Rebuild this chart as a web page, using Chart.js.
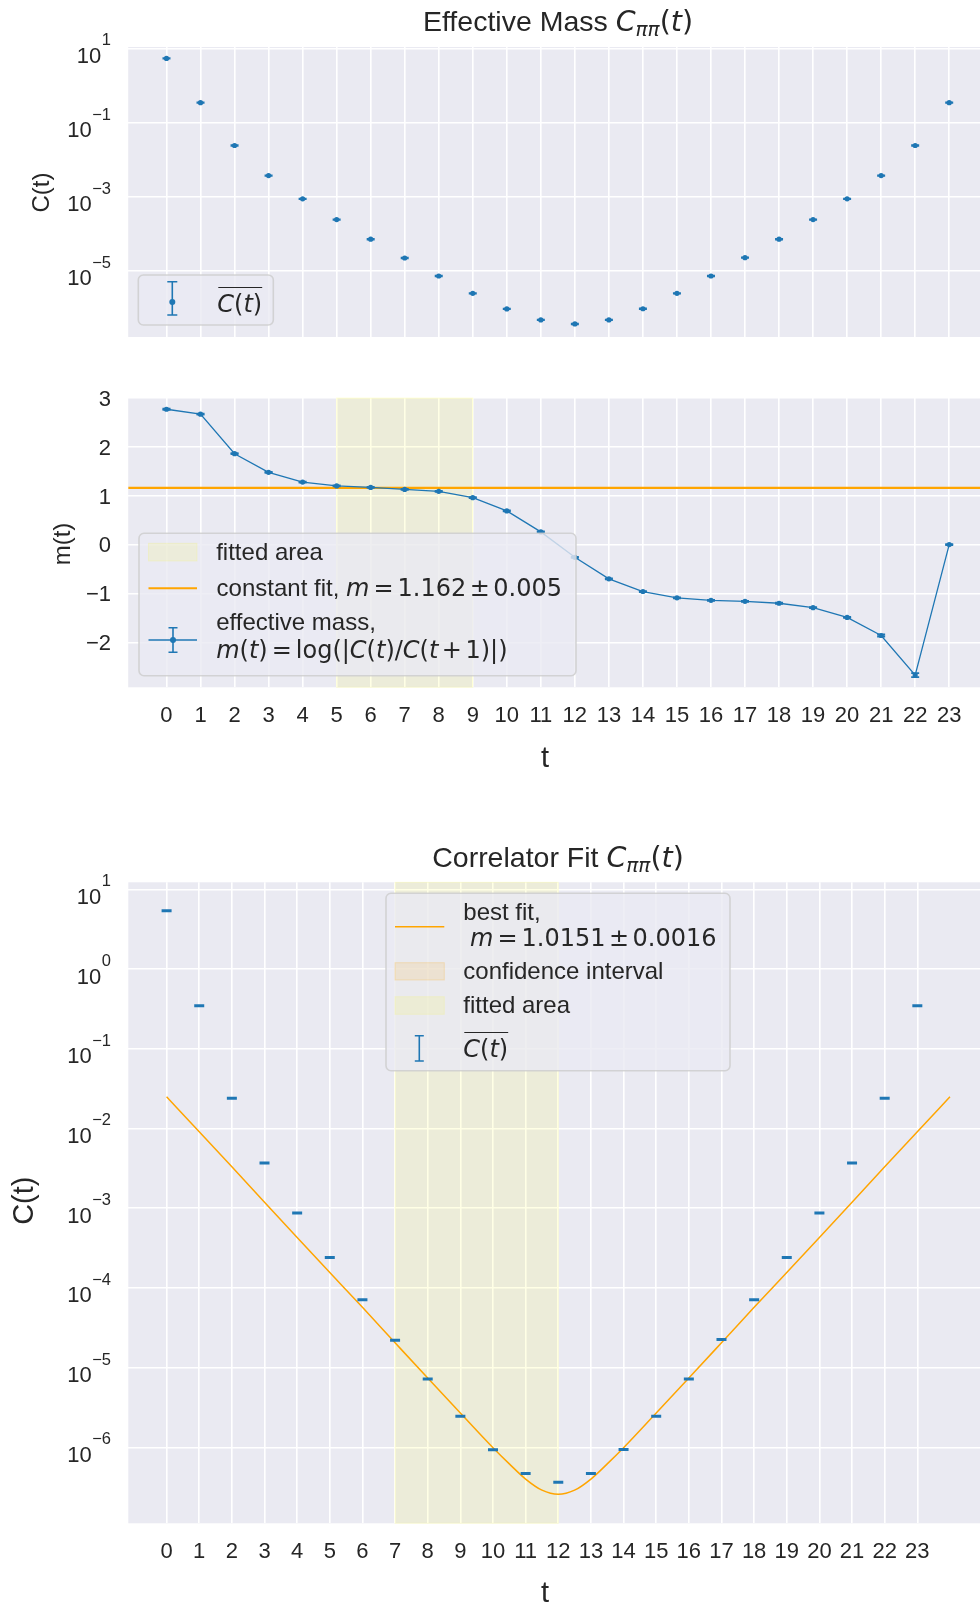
<!DOCTYPE html>
<html><head><meta charset="utf-8">
<script src="https://cdn.jsdelivr.net/npm/chart.js@4.4.1/dist/chart.umd.min.js"></script>
<style>
html,body{margin:0;padding:0;background:#fff;width:980px;height:1606px;overflow:hidden;}
canvas{position:absolute;left:0;}
</style></head><body>
<canvas id="c1" width="980" height="340" style="top:0px"></canvas>
<canvas id="c2" width="980" height="440" style="top:340px"></canvas>
<canvas id="c3" width="980" height="826" style="top:780px"></canvas>
<script>
// ---------------- data ----------------
const times = [0,1,2,3,4,5,6,7,8,9,10,11,12,13,14,15,16,17,18,19,20,21,22,23];
const corr = [5.4, 0.345, 0.024, 0.0037, 8.7e-4, 2.4e-4, 7.1e-5, 2.2e-5, 7.2e-6, 2.45e-6, 9.3e-7, 4.7e-7,
              3.65e-7, 4.7e-7, 9.4e-7, 2.45e-6, 7.2e-6, 2.25e-5, 7.1e-5, 2.4e-4, 8.7e-4, 3.7e-3, 0.024, 0.345];
const effMass = [2.77, 2.67, 1.86, 1.48, 1.28, 1.20, 1.17, 1.13, 1.09, 0.96, 0.69, 0.26,
                 -0.26, -0.70, -0.96, -1.09, -1.14, -1.16, -1.20, -1.29, -1.49, -1.86, -2.67, 0.0];
const effMassErr = [0.01,0.01,0.01,0.01,0.01,0.01,0.01,0.01,0.01,0.01,0.01,0.01,
                    0.01,0.01,0.01,0.01,0.01,0.01,0.01,0.01,0.01,0.02,0.04,0.01];
const fitT = [0,1,2,3,4,5,6,7,8,9,10,10.5,11,11.5,12,12.5,13,13.5,14,15,16,17,18,19,20,21,22,23,24];
const fitC = [0.025, 9.1e-3, 3.3e-3, 1.19e-3, 4.3e-4, 1.56e-4, 5.7e-5, 2.05e-5, 7.4e-6, 2.7e-6, 9.9e-7, 6.2e-7,
              4.0e-7, 2.9e-7, 2.57e-7, 2.9e-7, 4.0e-7, 6.2e-7, 9.9e-7, 2.7e-6, 7.4e-6, 2.05e-5, 5.7e-5, 1.56e-4,
              4.3e-4, 1.19e-3, 3.3e-3, 9.1e-3, 0.025];
const massFit = 1.162;
const massWindow = [5, 9];
const corrWindow = [7, 12];
const topLogTicks = [1, -1, -3, -5];
const bottomLogTicks = [1, 0, -1, -2, -3, -4, -5, -6];
const massTicks = [-2, -1, 0, 1, 2, 3];

// ---------------- style ----------------
const BLUE = '#1f77b4', ORANGE = '#ffa500', BG = '#eaeaf2', TXT = '#262626';
const SANS = '"Liberation Sans", Arial, "DejaVu Sans", sans-serif';
const MATH = '"DejaVu Sans", sans-serif';
const F = (s, it, fam) => (it ? 'italic ' : '') + s + 'px ' + fam;
const X12 = [-1.125, 23.905];
const X3 = [-1.173, 24.92];

function drawRuns(ctx, runs, x, y, align) {
  let total = 0;
  const ws = runs.map(r => {
    if (r.gap !== undefined) return r.gap;
    ctx.font = r[1]; return ctx.measureText(r[0]).width;
  });
  ws.forEach(w => total += w);
  let cx = align === 'center' ? x - total / 2 : align === 'right' ? x - total : x;
  const start = cx;
  ctx.textAlign = 'left'; ctx.textBaseline = 'alphabetic'; ctx.fillStyle = TXT;
  runs.forEach((r, i) => {
    if (r.gap === undefined) { ctx.font = r[1]; ctx.fillText(r[0], cx, y + (r[2] || 0)); }
    cx += ws[i];
  });
  return [start, cx];
}
function mathCt(size) {
  return [['C', F(size, true, MATH)], ['(', F(size, false, MATH)], ['t', F(size, true, MATH)], [')', F(size, false, MATH)]];
}
function titleRuns(word) {
  return [[word, F(28.5, false, SANS)], ['C', F(28.5, true, MATH)], ['ππ', F(20, true, MATH), 5],
          ['(', F(28.5, false, MATH)], ['t', F(28.5, true, MATH)], [')', F(28.5, false, MATH)]];
}
function rotLabel(ctx, text, size, cx, cy) {
  ctx.save(); ctx.translate(cx, cy); ctx.rotate(-Math.PI / 2);
  ctx.font = F(size, false, SANS); ctx.fillStyle = TXT; ctx.textAlign = 'center'; ctx.textBaseline = 'middle';
  ctx.fillText(text, 0, 0); ctx.restore();
}
function logTickLabels(ctx, scale, exps) {
  exps.forEach(e => {
    const y = scale.getPixelForValue(Math.pow(10, e));
    const es = e < 0 ? '\u2212' + (-e) : String(e);
    ctx.fillStyle = TXT; ctx.textAlign = 'left'; ctx.textBaseline = 'alphabetic';
    ctx.font = F(16.5, false, SANS); const ew = ctx.measureText(es).width;
    ctx.fillText(es, 111 - ew, y - 3);
    ctx.font = F(22, false, SANS); const bw = ctx.measureText('10').width;
    ctx.fillText('10', 111 - ew - 0.5 - bw, y + 14.6);
  });
}
function xTickLabels(ctx, scale, base) {
  ctx.fillStyle = TXT; ctx.font = F(22, false, SANS); ctx.textAlign = 'center'; ctx.textBaseline = 'alphabetic';
  times.forEach(t => ctx.fillText(String(t), scale.getPixelForValue(t), base));
}
function legendBox(ctx, x0, y0, x1, y1) {
  ctx.save(); ctx.beginPath(); ctx.roundRect(x0, y0, x1 - x0, y1 - y0, 5);
  ctx.fillStyle = 'rgba(234,234,242,0.8)'; ctx.fill();
  ctx.strokeStyle = 'rgba(204,204,204,0.8)'; ctx.lineWidth = 1.6; ctx.stroke(); ctx.restore();
}
function patch(ctx, x0, y0, x1, y1, fill, stroke) {
  ctx.fillStyle = fill; ctx.fillRect(x0, y0, x1 - x0, y1 - y0);
  ctx.strokeStyle = stroke; ctx.lineWidth = 1; ctx.strokeRect(x0, y0, x1 - x0, y1 - y0);
}
function hline(ctx, x0, x1, y, color, lw) {
  ctx.beginPath(); ctx.moveTo(x0, y); ctx.lineTo(x1, y); ctx.strokeStyle = color; ctx.lineWidth = lw; ctx.stroke();
}
function errIcon(ctx, x, yt, yb, ch, dotY, hl) {
  ctx.strokeStyle = BLUE; ctx.lineWidth = 1.6;
  ctx.beginPath(); ctx.moveTo(x, yt); ctx.lineTo(x, yb);
  ctx.moveTo(x - ch, yt); ctx.lineTo(x + ch, yt); ctx.moveTo(x - ch, yb); ctx.lineTo(x + ch, yb); ctx.stroke();
  if (hl) hline(ctx, hl[0], hl[1], dotY, BLUE, 1.3);
  if (dotY !== null) { ctx.beginPath(); ctx.arc(x, dotY, 3, 0, Math.PI * 2); ctx.fillStyle = BLUE; ctx.fill(); }
}
function overlineCt(ctx, x, base, size) {
  const [s, e] = drawRuns(ctx, mathCt(size), x, base, 'left');
  hline(ctx, s + 1, e, base - 24.2, TXT, 1.2);
}

function decor(spec) {
  return {
    id: 'decor',
    beforeDraw(chart) {
      const ctx = chart.ctx, a = chart.chartArea;
      ctx.save(); ctx.fillStyle = '#ffffff'; ctx.fillRect(0, 0, chart.width, chart.height);
      ctx.fillStyle = BG; ctx.fillRect(a.left, a.top, a.right - a.left, a.bottom - a.top); ctx.restore();
    },
    beforeDatasetsDraw(chart) {
      if (!spec.span) return;
      const ctx = chart.ctx, a = chart.chartArea, xs = chart.scales.x;
      const x0 = xs.getPixelForValue(spec.span[0]), x1 = xs.getPixelForValue(spec.span[1]);
      ctx.save();
      ctx.fillStyle = 'rgba(255,255,0,0.1)'; ctx.fillRect(x0, a.top, x1 - x0, a.bottom - a.top);
      ctx.strokeStyle = 'rgba(255,255,0,0.12)'; ctx.lineWidth = 1; ctx.strokeRect(x0, a.top, x1 - x0, a.bottom - a.top);
      ctx.restore();
    },
    afterDatasetsDraw(chart) { if (spec.after) { chart.ctx.save(); spec.after(chart.ctx, chart); chart.ctx.restore(); } },
    afterDraw(chart) { chart.ctx.save(); spec.draw(chart.ctx, chart); chart.ctx.restore(); }
  };
}

function scales(xr, ytype, ymin, ymax, yTicks) {
  const grid = { color: '#ffffff', lineWidth: 1.6, drawTicks: false };
  return {
    x: { type: 'linear', min: xr[0], max: xr[1], afterBuildTicks: s => { s.ticks = times.map(v => ({ value: v })); },
         afterFit: s => { s.height = 0; }, ticks: { display: false }, grid, border: { display: false } },
    y: { type: ytype, min: ymin, max: ymax, afterBuildTicks: s => { s.ticks = yTicks.map(v => ({ value: v })); },
         afterFit: s => { s.width = 0; }, ticks: { display: false }, grid, border: { display: false } }
  };
}
function baseOptions(padding, sc) {
  return { responsive: false, animation: false, devicePixelRatio: 1, layout: { padding, autoPadding: false },
           plugins: { legend: { display: false }, tooltip: { enabled: false } }, scales: sc };
}
const pts = (xs, ys) => xs.map((x, i) => ({ x, y: ys[i] }));

// ---------------- chart 1: C(t) ----------------
new Chart(document.getElementById('c1'), {
  type: 'scatter',
  data: { datasets: [
    { data: pts(times, corr), pointStyle: 'circle', pointRadius: 2.6, pointBackgroundColor: BLUE, pointBorderWidth: 0 },
    { data: pts(times, corr), pointStyle: 'line', pointRadius: 4, pointBorderColor: BLUE, pointBorderWidth: 2.4 }
  ] },
  options: baseOptions({ left: 128.2, right: 0, top: 47, bottom: 3 },
    scales(X12, 'logarithmic', Math.pow(10, -6.79), Math.pow(10, 1.04), topLogTicks.map(e => Math.pow(10, e)))),
  plugins: [decor({
    draw(ctx, chart) {
      drawRuns(ctx, titleRuns('Effective Mass '), 558, 30.7, 'center');
      logTickLabels(ctx, chart.scales.y, topLogTicks);
      rotLabel(ctx, 'C(t)', 24, 42.5, 192.5);
      legendBox(ctx, 138.3, 275, 273.3, 325);
      errIcon(ctx, 172.3, 281.7, 315, 5, 302, null);
      overlineCt(ctx, 217.3, 311.7, 24);
    }
  })]
});

// ---------------- chart 2: m(t) ----------------
new Chart(document.getElementById('c2'), {
  type: 'scatter',
  data: { datasets: [
    { type: 'line', data: pts(times, effMass), borderColor: BLUE, borderWidth: 1.3, tension: 0, fill: false,
      pointStyle: 'circle', pointRadius: 2.6, pointBackgroundColor: BLUE, pointBorderWidth: 0 },
    { data: pts(times, effMass.map((m, i) => m + effMassErr[i])), pointStyle: 'line', pointRadius: 4, pointBorderColor: BLUE, pointBorderWidth: 1.8 },
    { data: pts(times, effMass.map((m, i) => m - effMassErr[i])), pointStyle: 'line', pointRadius: 4, pointBorderColor: BLUE, pointBorderWidth: 1.8 },
    { type: 'line', data: pts(X12, [massFit, massFit]), borderColor: ORANGE, borderWidth: 2.2, pointRadius: 0, fill: false }
  ] },
  options: baseOptions({ left: 128.2, right: 0, top: 58, bottom: 92.7 }, scales(X12, 'linear', -2.92, 3.0, massTicks)),
  plugins: [decor({
    span: massWindow,
    after(ctx, chart) {
      const xs = chart.scales.x, ys = chart.scales.y;
      ctx.strokeStyle = BLUE; ctx.lineWidth = 1.4; ctx.beginPath();
      times.forEach((t, i) => {
        const px = xs.getPixelForValue(t);
        ctx.moveTo(px, ys.getPixelForValue(effMass[i] - effMassErr[i]));
        ctx.lineTo(px, ys.getPixelForValue(effMass[i] + effMassErr[i]));
      });
      ctx.stroke();
    },
    draw(ctx, chart) {
      const ys = chart.scales.y;
      ctx.fillStyle = TXT; ctx.font = F(22, false, SANS); ctx.textAlign = 'right'; ctx.textBaseline = 'alphabetic';
      massTicks.forEach(v => ctx.fillText(v < 0 ? '\u2212' + (-v) : String(v), 111, ys.getPixelForValue(v) + 7.8));
      xTickLabels(ctx, chart.scales.x, 382.3);
      rotLabel(ctx, 'm(t)', 24, 63, 204);
      ctx.font = F(29, false, SANS); ctx.textAlign = 'center'; ctx.fillStyle = TXT; ctx.fillText('t', 545, 426.7);
      legendBox(ctx, 139, 193.3, 576, 335.7);
      patch(ctx, 148.5, 203.3, 197, 221, 'rgba(255,255,0,0.1)', 'rgba(255,255,0,0.12)');
      drawRuns(ctx, [['fitted area', F(24, false, SANS)]], 216.2, 220, 'left');
      hline(ctx, 148.5, 197, 248.3, ORANGE, 2);
      drawRuns(ctx, [['constant fit, ', F(24, false, SANS)], ['m', F(24, true, MATH)], { gap: 4 }, ['=', F(24, false, MATH)], { gap: 4 },
        ['1.162', F(24, false, MATH)], { gap: 3.5 }, ['\u00b1', F(24, false, MATH)], { gap: 3.5 }, ['0.005', F(24, false, MATH)]], 216.6, 256.3, 'left');
      errIcon(ctx, 173, 287.7, 312.3, 4.5, 300, [148.5, 197]);
      drawRuns(ctx, [['effective mass,', F(24, false, SANS)]], 216.2, 290, 'left');
      const it = F(24, true, MATH), up = F(24, false, MATH);
      drawRuns(ctx, [['m', it], ['(', up], ['t', it], [')', up], { gap: 4 }, ['=', up], { gap: 4 }, ['log', up], ['(', up], ['|', up],
        ['C', it], ['(', up], ['t', it], [')', up], ['/', up], ['C', it], ['(', up], ['t', it], { gap: 3.5 }, ['+', up], { gap: 3.5 },
        ['1', up], [')', up], ['|', up], [')', up]], 216.2, 318.3, 'left');
    }
  })]
});

// ---------------- chart 3: correlator fit ----------------
new Chart(document.getElementById('c3'), {
  type: 'scatter',
  data: { datasets: [
    { data: pts(times, corr), pointStyle: 'line', pointRadius: 5, pointBorderColor: BLUE, pointBorderWidth: 3 },
    { type: 'line', data: pts(fitT, fitC), borderColor: ORANGE, borderWidth: 1.5, pointRadius: 0, fill: false,
      cubicInterpolationMode: 'monotone' }
  ] },
  options: baseOptions({ left: 128.3, right: 0, top: 102.3, bottom: 82.7 },
    scales(X3, 'logarithmic', Math.pow(10, -6.953), Math.pow(10, 1.088), bottomLogTicks.map(e => Math.pow(10, e)))),
  plugins: [decor({
    span: corrWindow,
    draw(ctx, chart) {
      drawRuns(ctx, titleRuns('Correlator Fit '), 558, 86.7, 'center');
      logTickLabels(ctx, chart.scales.y, bottomLogTicks);
      xTickLabels(ctx, chart.scales.x, 778.3);
      rotLabel(ctx, 'C(t)', 29, 25, 420.7);
      ctx.font = F(29, false, SANS); ctx.textAlign = 'center'; ctx.fillStyle = TXT; ctx.fillText('t', 545, 821.7);
      legendBox(ctx, 386, 113.3, 730, 290.7);
      hline(ctx, 395, 444.3, 146.7, ORANGE, 1.5);
      drawRuns(ctx, [['best fit,', F(24, false, SANS)]], 463.3, 140, 'left');
      drawRuns(ctx, [{ gap: 6.7 }, ['m', F(24, true, MATH)], { gap: 4 }, ['=', F(24, false, MATH)], { gap: 4 },
        ['1.0151', F(24, false, MATH)], { gap: 3.5 }, ['\u00b1', F(24, false, MATH)], { gap: 3.5 }, ['0.0016', F(24, false, MATH)]], 463.3, 166, 'left');
      patch(ctx, 395, 182.7, 444.3, 200, 'rgba(255,165,0,0.12)', 'rgba(255,165,0,0.2)');
      drawRuns(ctx, [['confidence interval', F(24, false, SANS)]], 463.3, 199.3, 'left');
      patch(ctx, 395, 216.7, 444.3, 234.3, 'rgba(255,255,0,0.1)', 'rgba(255,255,0,0.12)');
      drawRuns(ctx, [['fitted area', F(24, false, SANS)]], 463.3, 233.3, 'left');
      errIcon(ctx, 419.3, 255.7, 281, 4.5, null, null);
      overlineCt(ctx, 463.3, 276.7, 24);
    }
  })]
});
</script>
</body></html>
